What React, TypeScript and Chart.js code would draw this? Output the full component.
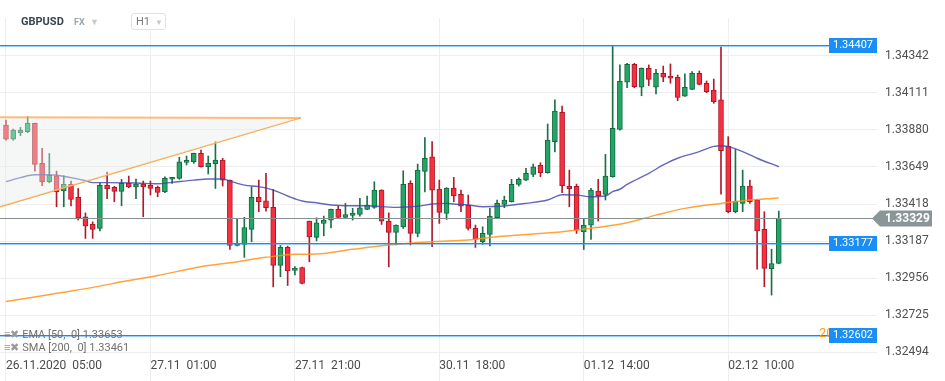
import React, { useEffect, useRef } from 'react';
import { Chart, registerables } from 'chart.js';

Chart.register(...registerables);

// ---- Candle data (H1, GBPUSD) ----
const opens = [
  1.33910, 1.33821, 1.33862, 1.33868, 1.33920, 1.33671, 1.33557, 1.33594, 1.33499, 1.33540,
  1.33459, 1.33339, 1.33291, 1.33266, 1.33534, 1.33522, 1.33497, 1.33547, 1.33525, 1.33542,
  1.33534, 1.33522, 1.33494, 1.33572, 1.33578, 1.33677, 1.33681, 1.33733, 1.33650, 1.33669,
  1.33692, 1.33567, 1.33160, 1.33167, 1.33260, 1.33459, 1.33438, 1.33397, 1.33036, 1.33148,
  1.33005, 1.33023, 1.33312, 1.33210, 1.33297, 1.33318, 1.33385, 1.33335, 1.33347, 1.33353,
  1.33385, 1.33397, 1.33505, 1.33312, 1.33242, 1.33276, 1.33547, 1.33235, 1.33621, 1.33712,
  1.33511, 1.33360, 1.33517, 1.33478, 1.33411, 1.33266, 1.33183, 1.33229, 1.33333, 1.33416,
  1.33432, 1.33540, 1.33567, 1.33603, 1.33659, 1.33613, 1.33806, 1.33989, 1.33528, 1.33528,
  1.33245, 1.33287, 1.33499, 1.33478, 1.33588, 1.33883, 1.34176, 1.34288, 1.34145, 1.34263,
  1.34145, 1.34232, 1.34215, 1.34207, 1.34090, 1.34132, 1.34232, 1.34170, 1.34128, 1.34066,
  1.33779, 1.33370, 1.33422, 1.33530, 1.33443, 1.33260, 1.33015, 1.33048,
];
const highs = [
  1.33941, 1.33885, 1.33895, 1.33961, 1.33922, 1.33765, 1.33733, 1.33623, 1.33594, 1.33561,
  1.33515, 1.33363, 1.33307, 1.33547, 1.33617, 1.33528, 1.33572, 1.33592, 1.33573, 1.33561,
  1.33561, 1.33530, 1.33588, 1.33584, 1.33709, 1.33717, 1.33735, 1.33754, 1.33717, 1.33806,
  1.33702, 1.33567, 1.33329, 1.33335, 1.33525, 1.33567, 1.33609, 1.33509, 1.33160, 1.33156,
  1.33029, 1.33025, 1.33312, 1.33332, 1.33343, 1.33387, 1.33405, 1.33422, 1.33391, 1.33453,
  1.33467, 1.33557, 1.33507, 1.33363, 1.33289, 1.33625, 1.33563, 1.33667, 1.33831, 1.33806,
  1.33567, 1.33520, 1.33584, 1.33505, 1.33474, 1.33287, 1.33276, 1.33391, 1.33443, 1.33467,
  1.33572, 1.33581, 1.33640, 1.33667, 1.33675, 1.33916, 1.34066, 1.34028, 1.33629, 1.33542,
  1.33324, 1.33515, 1.33572, 1.33727, 1.34400, 1.34284, 1.34294, 1.34294, 1.34265, 1.34284,
  1.34257, 1.34277, 1.34290, 1.34221, 1.34228, 1.34242, 1.34246, 1.34184, 1.34196, 1.34395,
  1.33837, 1.33758, 1.33629, 1.33567, 1.33447, 1.33370, 1.33137, 1.33374,
];
const lows = [
  1.33815, 1.33815, 1.33843, 1.33862, 1.33623, 1.33532, 1.33550, 1.33401, 1.33401, 1.33407,
  1.33318, 1.33204, 1.33204, 1.33251, 1.33451, 1.33432, 1.33407, 1.33519, 1.33451, 1.33339,
  1.33474, 1.33463, 1.33488, 1.33547, 1.33572, 1.33661, 1.33671, 1.33648, 1.33605, 1.33515,
  1.33530, 1.33135, 1.33158, 1.33086, 1.33183, 1.33370, 1.33374, 1.32902, 1.32965, 1.32911,
  1.32977, 1.32920, 1.33058, 1.33189, 1.33220, 1.33270, 1.33329, 1.33333, 1.33318, 1.33343,
  1.33383, 1.33391, 1.33291, 1.33027, 1.33163, 1.33266, 1.33163, 1.33214, 1.33494, 1.33152,
  1.33297, 1.33322, 1.33432, 1.33370, 1.33256, 1.33148, 1.33167, 1.33158, 1.33329, 1.33395,
  1.33430, 1.33530, 1.33563, 1.33588, 1.33588, 1.33610, 1.33743, 1.33488, 1.33401, 1.33235,
  1.33135, 1.33198, 1.33312, 1.33443, 1.33585, 1.33878, 1.34142, 1.34142, 1.34092, 1.34155,
  1.34103, 1.34180, 1.34170, 1.34061, 1.34088, 1.34130, 1.34160, 1.34111, 1.34045, 1.33480,
  1.33363, 1.33363, 1.33370, 1.33422, 1.33012, 1.32903, 1.32851, 1.33046,
];
const closes = [
  1.33821, 1.33879, 1.33877, 1.33920, 1.33665, 1.33557, 1.33596, 1.33494, 1.33540, 1.33447,
  1.33332, 1.33282, 1.33260, 1.33534, 1.33513, 1.33497, 1.33547, 1.33525, 1.33542, 1.33525,
  1.33515, 1.33490, 1.33578, 1.33584, 1.33681, 1.33690, 1.33733, 1.33650, 1.33671, 1.33692,
  1.33567, 1.33160, 1.33173, 1.33272, 1.33459, 1.33432, 1.33395, 1.33036, 1.33148, 1.33002,
  1.33019, 1.32924, 1.33214, 1.33301, 1.33318, 1.33385, 1.33335, 1.33353, 1.33362, 1.33395,
  1.33411, 1.33505, 1.33312, 1.33242, 1.33287, 1.33540, 1.33235, 1.33629, 1.33702, 1.33505,
  1.33366, 1.33517, 1.33469, 1.33405, 1.33266, 1.33198, 1.33235, 1.33343, 1.33422, 1.33443,
  1.33540, 1.33572, 1.33609, 1.33650, 1.33613, 1.33816, 1.33997, 1.33532, 1.33513, 1.33256,
  1.33287, 1.33505, 1.33469, 1.33592, 1.33889, 1.34182, 1.34288, 1.34148, 1.34263, 1.34194,
  1.34232, 1.34207, 1.34201, 1.34082, 1.34145, 1.34232, 1.34163, 1.34117, 1.34055, 1.33750,
  1.33370, 1.33436, 1.33530, 1.33432, 1.33251, 1.33017, 1.33048, 1.33329,
];

// ---- Indicators (sampled readings) ----
const emaIdx = [0, 2, 4, 5, 7, 9, 11, 12, 14, 18, 21, 23, 26, 28, 30, 31, 33, 35, 37, 39, 41, 43, 45, 48, 50, 54, 57, 59, 61, 62, 64, 66, 69, 72, 75, 77, 79, 81, 83, 84, 85, 86, 89, 91, 93, 96, 98, 99, 100, 102, 104, 107];
const emaVal = [1.33557, 1.33582, 1.33600, 1.33600, 1.33597, 1.33582, 1.33563, 1.33551, 1.33551, 1.33549, 1.33544, 1.33553, 1.33567, 1.33574, 1.33574, 1.33561, 1.33536, 1.33526, 1.33505, 1.33468, 1.33437, 1.33426, 1.33412, 1.33407, 1.33407, 1.33397, 1.33404, 1.33418, 1.33422, 1.33418, 1.33412, 1.33401, 1.33406, 1.33422, 1.33443, 1.33476, 1.33474, 1.33463, 1.33468, 1.33495, 1.33510, 1.33540, 1.33609, 1.33661, 1.33703, 1.33744, 1.33777, 1.33781, 1.33775, 1.33744, 1.33703, 1.33650];
const smaIdx = [0, 2, 7, 13, 16, 21, 27, 31, 36, 40, 43, 48, 53, 59, 64, 68, 73, 77, 82, 86, 90, 94, 99, 103, 107];
const smaVal = [1.32811, 1.32825, 1.32862, 1.32907, 1.32934, 1.32973, 1.33028, 1.33052, 1.33086, 1.33105, 1.33107, 1.33136, 1.33163, 1.33183, 1.33194, 1.33214, 1.33231, 1.33246, 1.33273, 1.33302, 1.33349, 1.33391, 1.33422, 1.33443, 1.33455];

// ---- Drawings ----
const X_MIN = -0.83;
const X_MAX = 120.6;
const Y_MIN = 1.32472;
const Y_MAX = 1.34576;
const wedgeIdx = [X_MIN, 40.8];
const wedgeTop = [1.33958, 1.33954];
const wedgeBottom = [1.33401, 1.33954];
const levelLines = [1.34407, 1.33177, 1.32602];
const lastPrice = 1.33329;

// ---- Axis ticks ----
const timeTickIndex = [0, 20, 40, 60, 80, 100];
const timeLabels = ['26.11.2020  05:00', '27.11  01:00', '27.11  21:00', '30.11  18:00', '01.12  14:00', '02.12  10:00'];
const priceTicks = [1.32494, 1.32725, 1.32956, 1.33187, 1.33418, 1.33649, 1.33880, 1.34111, 1.34342];

const FONT = 'Roboto, "Noto Sans", sans-serif';

const overlayPlugin = {
  id: 'overlay',
  afterDatasetsDraw(chart: any) {
    const { ctx, chartArea, scales } = chart;
    const ys = scales.y;
    ctx.save();
    ctx.globalAlpha = 1;
    const py = Math.round(ys.getPixelForValue(lastPrice));
    ctx.fillStyle = 'rgb(135,144,143)';
    ctx.fillRect(chartArea.left, py, chartArea.right - chartArea.left, 1);
    levelLines.forEach((v) => {
      const ly = Math.round(ys.getPixelForValue(v));
      const w = chartArea.right - chartArea.left - 48;
      ctx.fillStyle = 'rgba(40,150,255,0.45)';
      ctx.fillRect(chartArea.left, ly + 1, w, 1);
      ctx.fillStyle = 'rgb(22,140,250)';
      ctx.fillRect(chartArea.left, ly, w, 1);
    });
    ctx.restore();
  },
  afterDraw(chart: any) {
    const { ctx, chartArea, scales } = chart;
    const ys = scales.y;
    ctx.save();
    const oy = ys.getPixelForValue(levelLines[2]);
    ctx.fillStyle = '#ff9a1f';
    ctx.font = `13px ${FONT}`;
    ctx.textAlign = 'left';
    ctx.textBaseline = 'middle';
    ctx.fillText('200', chartArea.right - 58, oy - 1);
    levelLines.forEach((v) => {
      const ly = Math.round(ys.getPixelForValue(v));
      ctx.fillStyle = 'rgb(26,142,245)';
      ctx.fillRect(chartArea.right - 48, ly - 7, 48, 15);
      ctx.fillStyle = '#ffffff';
      ctx.font = `11px ${FONT}`;
      ctx.textAlign = 'center';
      ctx.textBaseline = 'middle';
      ctx.fillText(v.toFixed(5), chartArea.right - 24, ly + 0.5);
    });
    const py = Math.round(ys.getPixelForValue(lastPrice)) + 0.5;
    const x0 = chartArea.right - 5;
    ctx.fillStyle = '#8a9597';
    ctx.beginPath();
    ctx.moveTo(x0, py);
    ctx.lineTo(x0 + 8, py - 8);
    ctx.lineTo(x0 + 60, py - 8);
    ctx.lineTo(x0 + 60, py + 8);
    ctx.lineTo(x0 + 8, py + 8);
    ctx.closePath();
    ctx.fill();
    ctx.fillStyle = '#ffffff';
    ctx.font = `bold 12px ${FONT}`;
    ctx.textAlign = 'left';
    ctx.fillText(lastPrice.toFixed(5), chartArea.right + 8, py + 0.5);
    ctx.restore();
  },
};

export default function App() {
  const canvasRef = useRef<HTMLCanvasElement | null>(null);

  useEffect(() => {
    document.body.style.margin = '0';
    const canvas = canvasRef.current;
    if (!canvas) return;
    const up = opens.map((o, i) => closes[i] >= o);
    const chart = new Chart(canvas, {
      type: 'bar',
      data: {
        datasets: [
          {
            type: 'line',
            label: 'wedgeTop',
            data: wedgeIdx.map((x, i) => ({ x, y: wedgeTop[i] })),
            borderColor: 'rgba(255,160,70,0.7)',
            borderWidth: 2,
            pointRadius: 0,
            fill: '+1',
            backgroundColor: 'rgba(228,236,232,0.42)',
            order: 0,
          },
          {
            type: 'line',
            label: 'wedgeBottom',
            data: wedgeIdx.map((x, i) => ({ x, y: wedgeBottom[i] })),
            borderColor: '#ff9f3c',
            borderWidth: 1.3,
            pointRadius: 0,
            fill: false,
            order: 1,
          },
          {
            type: 'line',
            label: 'EMA [50, 0]',
            data: emaIdx.map((x, i) => ({ x, y: emaVal[i] })),
            borderColor: 'rgba(62,66,168,0.8)',
            borderWidth: 1.4,
            pointRadius: 0,
            cubicInterpolationMode: 'monotone',
            fill: false,
            order: 2,
          },
          {
            type: 'line',
            label: 'SMA [200, 0]',
            data: smaIdx.map((x, i) => ({ x, y: smaVal[i] })),
            borderColor: 'rgba(255,148,25,0.85)',
            borderWidth: 1.5,
            pointRadius: 0,
            cubicInterpolationMode: 'monotone',
            fill: false,
            order: 3,
          },
          {
            type: 'bar',
            label: 'body',
            data: opens.map((o, i) => ({ x: i, y: [o, closes[i]] })) as any,
            backgroundColor: up.map((u) => (u ? '#22a567' : '#f7303f')),
            borderColor: up.map((u) => (u ? '#136a40' : '#a8182a')),
            borderWidth: 1,
            borderSkipped: false,
            barThickness: 5,
            minBarLength: 2,
            grouped: false,
            order: 4,
          },
          {
            type: 'bar',
            label: 'wick',
            data: lows.map((l, i) => ({ x: i, y: [l, highs[i]] })) as any,
            backgroundColor: up.map((u) => (u ? '#1b7048' : '#b01c2c')),
            borderWidth: 0,
            barThickness: 1,
            grouped: false,
            order: 5,
          },
        ] as any,
      },
      options: {
        responsive: false,
        animation: false,
        events: [],
        layout: { padding: { top: 18, left: 0, right: 0, bottom: 0 } },
        plugins: { legend: { display: false }, tooltip: { enabled: false } },
        scales: {
          x: {
            type: 'linear',
            offset: false,
            bounds: 'ticks',
            min: X_MIN,
            max: X_MAX,
            afterBuildTicks: (s: any) => {
              s.ticks = timeTickIndex.map((v) => ({ value: v }));
            },
            afterFit: (s: any) => {
              s.height = 25;
            },
            ticks: {
              autoSkip: false,
              maxRotation: 0,
              align: 'start',
              padding: -22,
              color: '#4a4a4a',
              font: { family: FONT, size: 12 },
              callback: (v: any) => {
                const k = timeTickIndex.indexOf(Number(v));
                return k >= 0 ? timeLabels[k] : '';
              },
            },
            grid: { offset: false, color: '#eeeeee', tickColor: '#eeeeee', tickLength: 25, drawTicks: true },
            border: { display: false },
          },
          y: {
            type: 'linear',
            position: 'right',
            min: Y_MIN,
            max: Y_MAX,
            afterBuildTicks: (s: any) => {
              s.ticks = priceTicks.map((v) => ({ value: v }));
            },
            afterFit: (s: any) => {
              s.width = 68;
            },
            ticks: {
              padding: 8,
              color: '#505050',
              font: { family: FONT, size: 12 },
              callback: (v: any) => Number(v).toFixed(5),
            },
            grid: { color: '#eeeeee', drawTicks: false },
            border: { display: false },
          },
        },
      } as any,
      plugins: [overlayPlugin],
    });
    return () => chart.destroy();
  }, []);

  const legendRow: React.CSSProperties = {
    position: 'absolute',
    left: 4,
    fontFamily: FONT,
    fontSize: 11,
    color: '#707070',
    whiteSpace: 'pre',
    lineHeight: '13px',
  };

  return (
    <div style={{ position: 'relative', width: 945, height: 381, background: '#fff', overflow: 'hidden' }}>
      <canvas ref={canvasRef} width={945} height={381} style={{ display: 'block' }} />
      <div style={{ position: 'absolute', left: 21, top: 14, fontFamily: FONT, fontSize: 11, fontWeight: 700, color: '#3a444c', lineHeight: '16px' }}>
        GBPUSD
      </div>
      <div style={{ position: 'absolute', left: 74, top: 15, fontFamily: FONT, fontSize: 9, fontWeight: 700, color: '#9aa5ad', lineHeight: '14px', whiteSpace: 'nowrap' }}>
        FX <span style={{ color: '#c4c9cc', fontSize: 9, marginLeft: 3 }}>▼</span>
      </div>
      <div style={{ position: 'absolute', left: 131, top: 13, width: 35, height: 17, border: '1px solid #e2e2e2', borderRadius: 3, boxSizing: 'border-box', fontFamily: FONT, fontSize: 11, color: '#7a7a7a', lineHeight: '15px', paddingLeft: 4, background: '#fff', whiteSpace: 'nowrap' }}>
        H1<span style={{ color: '#c4c9cc', fontSize: 8, marginLeft: 5 }}>▼</span>
      </div>
      <div style={{ ...legendRow, top: 328 }}>
        <span style={{ color: '#9a9a9a' }}>≡✖ </span>EMA [50,  0] 1.33653
      </div>
      <div style={{ ...legendRow, top: 341 }}>
        <span style={{ color: '#9a9a9a' }}>≡✖ </span>SMA [200,  0] 1.33461
      </div>
    </div>
  );
}
